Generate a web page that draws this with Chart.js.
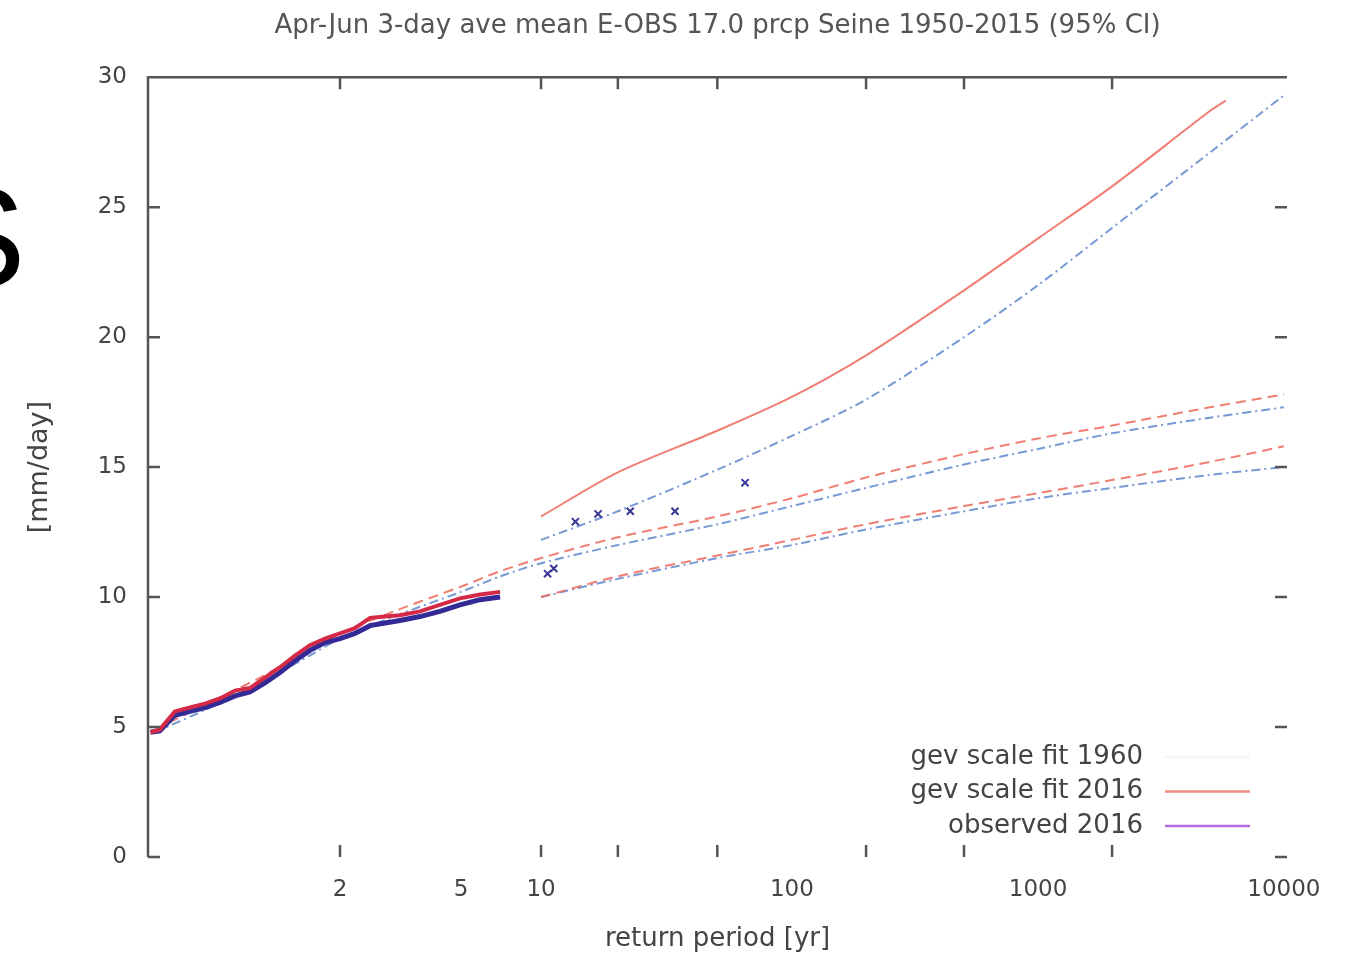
<!DOCTYPE html>
<html>
<head>
<meta charset="utf-8">
<title>Seine return period</title>
<script src="https://cdn.jsdelivr.net/npm/chart.js@4.4.1/dist/chart.umd.min.js"></script>
<style>
  html, body { margin: 0; padding: 0; background: #fff; overflow: hidden; }
  #wrap { position: relative; width: 1345px; height: 957px; }
  #cut { position: absolute; left: -69px; top: 167px; font: 142px/1 "Liberation Sans", Arial, sans-serif; color: #000; }
</style>
</head>
<body>
<div id="wrap">
  <canvas id="chart" width="1345" height="957"></canvas>
  <div id="cut">S</div>
</div>
<script>
// Texts
const titleText = 'Apr-Jun 3-day ave mean E-OBS 17.0 prcp Seine 1950-2015 (95% CI)';
const legendLabels = ['gev scale fit 1960', 'gev scale fit 2016', 'observed 2016'];

// Axis ticks
const xLabelT = [2, 5, 10, 100, 1000, 10000];
const xMarkT = [2, 10, 20, 50, 200, 500, 2000];
const yTicks = [0, 5, 10, 15, 20, 25, 30];

// Fit curves (return period in yr, value in mm/day)
const fitT = [10, 20, 50, 100, 200, 500, 1000, 2000, 5000, 10000];
const upperT2016 = [10, 20, 50, 100, 200, 500, 1000, 2000, 5000, 5800];
const upper2016 = [13.1, 14.8, 16.4, 17.7, 19.3, 21.8, 23.8, 25.8, 28.7, 29.1];
const upper1960 = [12.2, 13.3, 14.9, 16.2, 17.6, 20.0, 22.0, 24.2, 27.1, 29.3];
const lower2016 = [10.0, 10.8, 11.6, 12.2, 12.8, 13.5, 14.0, 14.5, 15.2, 15.8];
const lower1960 = [10.0, 10.7, 11.5, 12.0, 12.6, 13.3, 13.8, 14.2, 14.7, 15.0];

const centralT = [1.02, 1.1, 1.3, 1.6, 2, 3, 5, 7, 10, 20, 50, 100, 200, 500, 1000, 2000, 5000, 10000];
const central2016 = [4.9, 5.9, 6.9, 7.8, 8.6, 9.5, 10.4, 11.0, 11.5, 12.3, 13.1, 13.8, 14.6, 15.5, 16.1, 16.6, 17.3, 17.8];
const central1960 = [4.8, 5.7, 6.7, 7.6, 8.4, 9.3, 10.2, 10.8, 11.3, 12.0, 12.8, 13.5, 14.2, 15.1, 15.7, 16.3, 16.9, 17.3];

// Observations
const obsT = [1.017, 1.024, 1.040, 1.063, 1.094, 1.134, 1.186, 1.249, 1.327, 1.421, 1.533, 1.664,
  1.820, 2.0, 2.21, 2.455, 2.738, 3.064, 3.58, 4.2, 4.96, 5.88, 6.98];
const obs2016 = [4.8, 4.9, 5.6, 5.75, 5.9, 6.1, 6.4, 6.5, 6.9, 7.3, 7.75, 8.15,
  8.4, 8.6, 8.8, 9.2, 9.25, 9.3, 9.45, 9.7, 9.95, 10.1, 10.2];
const obs1960 = [4.8, 4.85, 5.45, 5.6, 5.75, 5.95, 6.2, 6.35, 6.7, 7.1, 7.55, 7.95,
  8.25, 8.4, 8.6, 8.9, 9.0, 9.1, 9.25, 9.45, 9.7, 9.9, 10.0];
const obsTopT = [10.6, 11.2, 13.6, 16.7, 22.4, 33.8, 64.7];
const obsTop1960 = [10.9, 11.1, 12.9, 13.2, 13.3, 13.3, 14.4];

// Gumbel reduced variate for return period
const gumbel = t => -Math.log(-Math.log(1 - 1 / t));
const pts = (ts, vs) => ts.map((t, i) => ({ x: gumbel(t), y: vs[i] }));

const red = 'rgba(238,112,100,0.9)';
const blue = 'rgba(95,135,205,0.85)';
const legendColors = ['rgba(120,160,220,0.10)', 'rgb(240,140,128)', 'rgb(175,110,225)'];

function line(data, color, dash, width) {
  return { data, borderColor: color, borderWidth: width || 2, borderDash: dash || [],
    showLine: true, pointRadius: 0, fill: false, tension: 0.3 };
}

const datasets = [
  { ...line(pts(obsT, obs2016), 'rgb(212,42,72)', [], 4), tension: 0 },
  { ...line(pts(obsT, obs1960), 'rgb(52,42,150)', [], 5), tension: 0 },
  { data: pts(obsTopT, obsTop1960), showLine: false, pointStyle: 'crossRot', pointRadius: 5,
    borderColor: 'rgb(55,55,150)', borderWidth: 2 },
  line(pts(upperT2016, upper2016), red, [], 2),
  line(pts(centralT, central2016), red, [10, 6], 2),
  line(pts(fitT, lower2016), red, [10, 6], 2),
  line(pts(fitT, upper1960), blue, [9, 4, 2, 4], 2),
  line(pts(centralT, central1960), blue, [9, 4, 2, 4], 2),
  line(pts(fitT, lower1960), blue, [9, 4, 2, 4], 2),
];

// Frame, inward ticks and gnuplot-style legend
const frame = {
  id: 'frame',
  afterDraw(chart) {
    const { ctx, chartArea: a, scales: { x, y } } = chart;
    ctx.save();
    ctx.strokeStyle = '#555';
    ctx.lineWidth = 2.5;
    ctx.beginPath();
    ctx.moveTo(a.left, a.bottom);
    ctx.lineTo(a.left, a.top);
    ctx.lineTo(a.right, a.top);
    yTicks.forEach(v => {
      const py = y.getPixelForValue(v);
      ctx.moveTo(a.left, py); ctx.lineTo(a.left + 12, py);
      ctx.moveTo(a.right, py); ctx.lineTo(a.right - 12, py);
    });
    xMarkT.forEach(t => {
      const px = x.getPixelForValue(gumbel(t));
      ctx.moveTo(px, a.bottom); ctx.lineTo(px, a.bottom - 12);
      ctx.moveTo(px, a.top); ctx.lineTo(px, a.top + 12);
    });
    ctx.stroke();

    ctx.font = '26px "DejaVu Sans"';
    ctx.textAlign = 'right';
    ctx.textBaseline = 'middle';
    legendLabels.forEach((label, i) => {
      const ly = 757 + i * 34.5;
      ctx.fillStyle = '#444';
      ctx.fillText(label, 1143, ly);
      ctx.strokeStyle = legendColors[i];
      ctx.lineWidth = 2.5;
      ctx.beginPath();
      ctx.moveTo(1165, ly); ctx.lineTo(1250, ly);
      ctx.stroke();
    });
    ctx.restore();
  }
};

Chart.defaults.font.family = '"DejaVu Sans", sans-serif';
Chart.defaults.color = '#444';

new Chart(document.getElementById('chart'), {
  type: 'scatter',
  data: { datasets },
  plugins: [frame],
  options: {
    responsive: false,
    animation: false,
    layout: { padding: { left: 0, right: 58, top: 0, bottom: 0 } },
    plugins: {
      legend: { display: false },
      tooltip: { enabled: false },
      title: {
        display: true, text: titleText, color: '#555', fullSize: false,
        font: { size: 26, weight: 'normal' },
        padding: { top: 11, bottom: 35 }
      }
    },
    scales: {
      x: {
        type: 'linear',
        min: gumbel(1.0154),
        max: gumbel(10300),
        grid: { display: false, drawTicks: false },
        border: { display: false },
        afterBuildTicks: s => { s.ticks = xLabelT.map(t => ({ value: gumbel(t) })); },
        afterFit: s => { s.height = 100; },
        ticks: {
          autoSkip: false, maxRotation: 0, padding: 19,
          font: { size: 23 },
          callback: (v, i) => String(xLabelT[i])
        },
        title: { display: true, text: 'return period [yr]', font: { size: 26 }, padding: { top: 0, bottom: 2 } }
      },
      y: {
        min: 0, max: 30,
        grid: { display: false, drawTicks: false },
        border: { display: false },
        afterFit: s => { s.width = 148; },
        ticks: { stepSize: 5, padding: 21, font: { size: 23 } },
        title: { display: true, text: '[mm/day]', font: { size: 27 }, padding: { top: 24, bottom: 0 } }
      }
    }
  }
});
</script>
</body>
</html>
